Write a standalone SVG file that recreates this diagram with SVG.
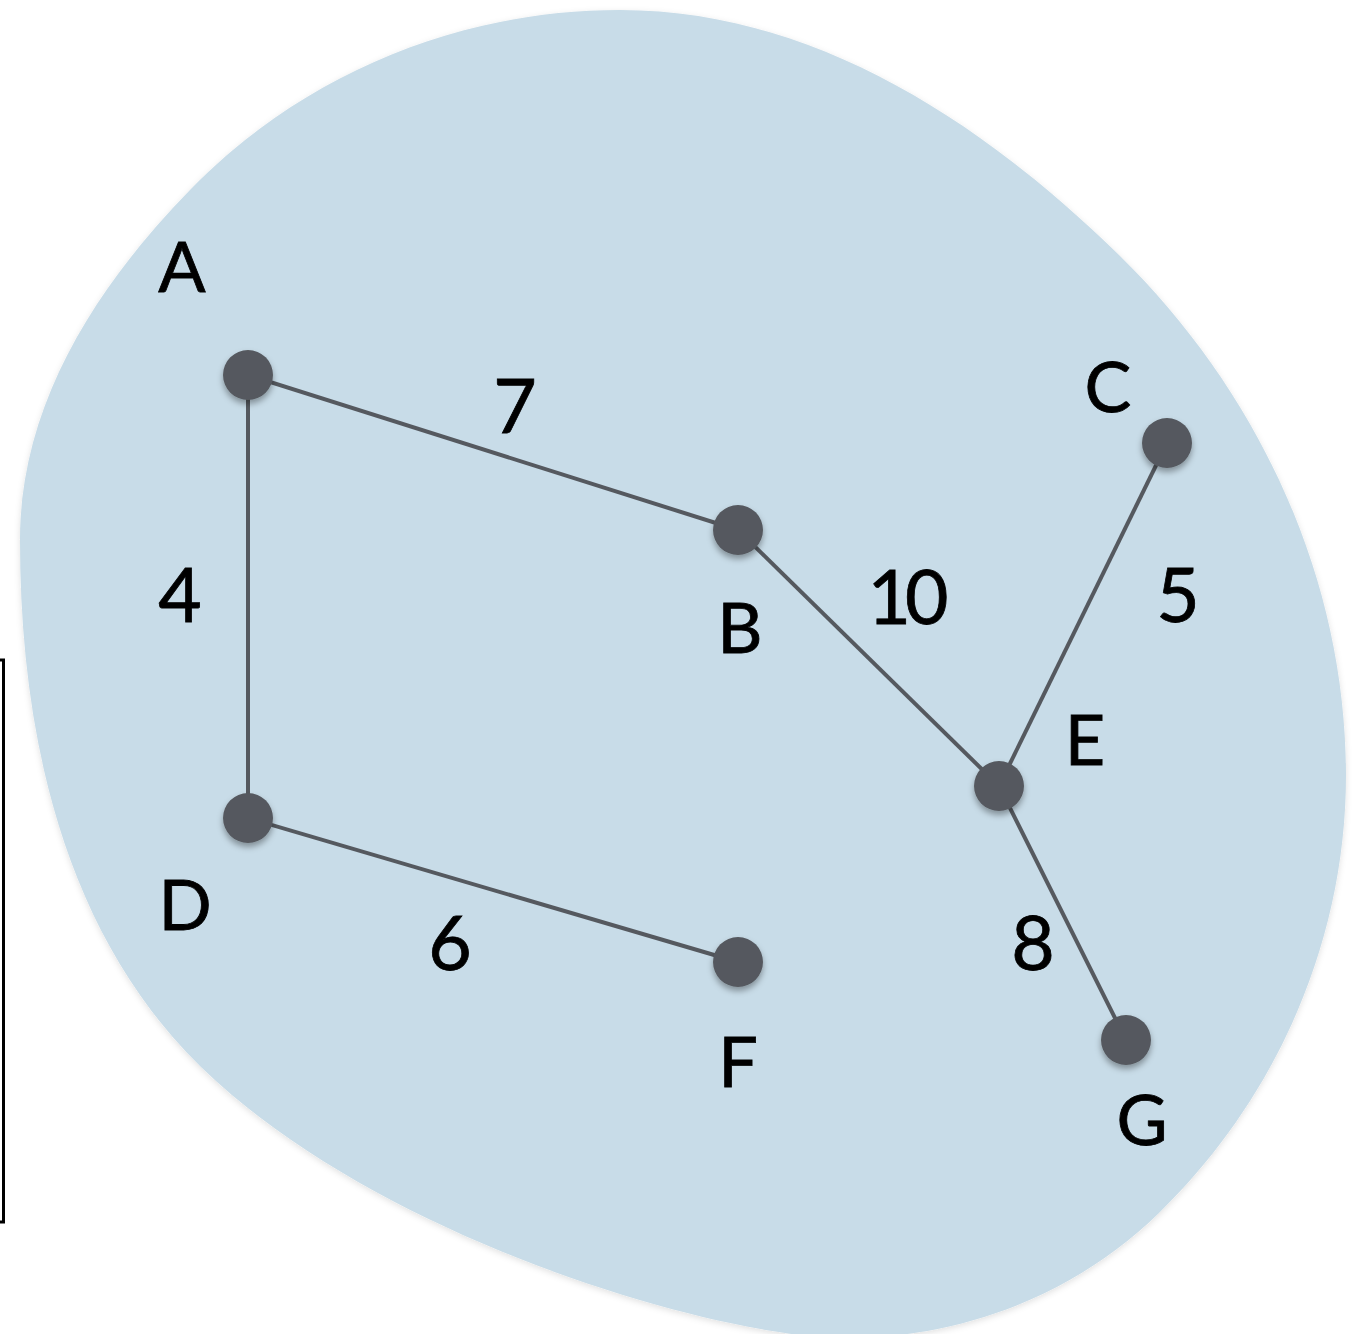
<svg xmlns="http://www.w3.org/2000/svg" width="1355" height="1334" viewBox="0 0 1355 1334">
<defs>
<filter id="blobShadow" x="-5%" y="-5%" width="110%" height="110%">
<feDropShadow dx="0" dy="2" stdDeviation="3" flood-color="#000" flood-opacity="0.12"/>
</filter>
<filter id="nodeShadow" x="-50%" y="-50%" width="200%" height="200%">
<feDropShadow dx="0" dy="4" stdDeviation="3" flood-color="#000" flood-opacity="0.35"/>
</filter>
</defs>
<style>
.node{fill:#55595f;filter:url(#nodeShadow)}
.edge{stroke:#55595f;stroke-width:4;fill:none}
.lbl{font-family:Lato,"Open Sans","Liberation Sans",sans-serif;font-size:70px;fill:#000;stroke:#000;stroke-width:0.8;text-anchor:middle}
.num{font-size:75px}
</style>
<rect width="1355" height="1334" fill="#fff"/>
<rect x="-20" y="660" width="23.5" height="562" fill="none" stroke="#000" stroke-width="3"/>
<path id="region" filter="url(#blobShadow)" fill="#c8dce8" d="M620,10 C812,10 981.5,120.6 1119,255 C1259,392 1346,579 1346,775 C1346,940 1277,1098 1159,1213 C1075,1295 962,1338 845,1338 C720,1338 380,1241 201,1067 C63,932 20,733 20,540 C20,405 95.5,287 190,190 C303,74 459,10 620,10 Z"/>
<g id="connectors">
<line class="edge" x1="248" y1="375" x2="738" y2="530"/>
<line class="edge" x1="248" y1="375" x2="248" y2="818"/>
<line class="edge" x1="738" y1="530" x2="999" y2="786"/>
<line class="edge" x1="1167" y1="443" x2="999" y2="786"/>
<line class="edge" x1="999" y1="786" x2="1126" y2="1040"/>
<line class="edge" x1="248" y1="818" x2="738" y2="962"/>
</g>
<g id="node-A"><circle class="node" cx="248" cy="375" r="25"/><text class="lbl" x="182" y="292">A</text></g>
<g id="node-B"><circle class="node" cx="738" cy="530" r="25"/><text class="lbl" x="740" y="653">B</text></g>
<g id="node-C"><circle class="node" cx="1167" cy="443" r="25"/><text class="lbl" x="1108" y="412">C</text></g>
<g id="node-D"><circle class="node" cx="248" cy="818" r="25"/><text class="lbl" x="185" y="930">D</text></g>
<g id="node-E"><circle class="node" cx="999" cy="786" r="25"/><text class="lbl" x="1085" y="765">E</text></g>
<g id="node-F"><circle class="node" cx="738" cy="962" r="25"/><text class="lbl" x="738" y="1087">F</text></g>
<g id="node-G"><circle class="node" cx="1126" cy="1040" r="25"/><text class="lbl" x="1142" y="1145">G</text></g>
<g id="edge-labels">
<text class="lbl num" x="515" y="433">7</text>
<text class="lbl num" x="180" y="622">4</text>
<text class="lbl num" x="905" y="624" letter-spacing="-6">10</text>
<text class="lbl num" x="1178" y="622">5</text>
<text class="lbl num" x="450" y="970">6</text>
<text class="lbl num" x="1033" y="970">8</text>
</g>
</svg>
